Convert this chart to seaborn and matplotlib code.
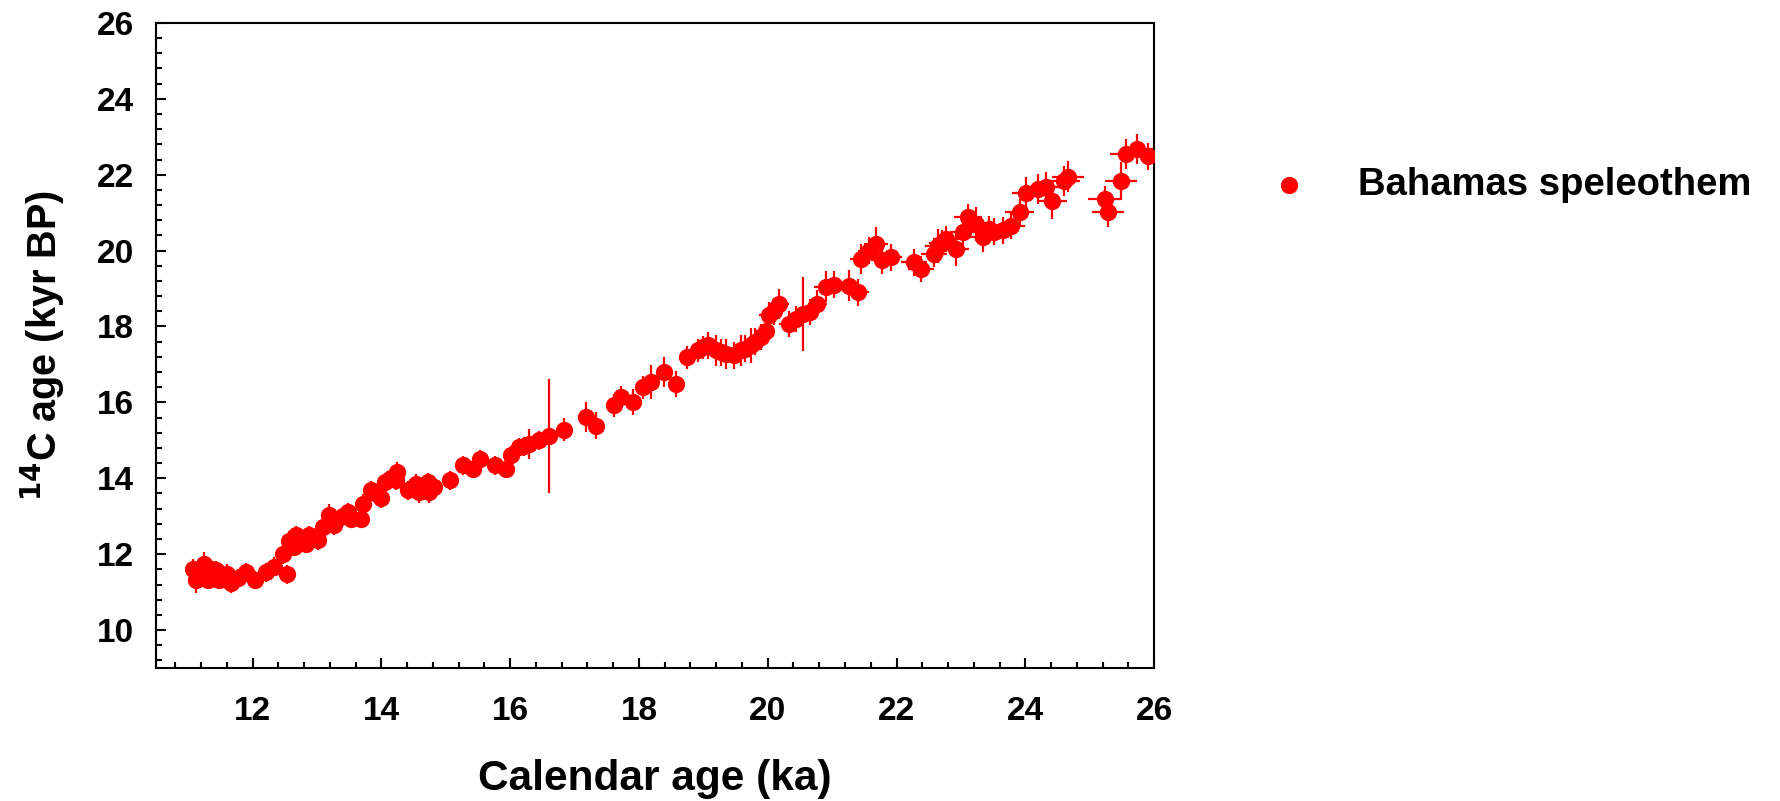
import numpy as np
import pandas as pd
import matplotlib
matplotlib.use("Agg")
import matplotlib.pyplot as plt
from matplotlib.ticker import MultipleLocator
import seaborn as sns

# Calendar age (ka) of each speleothem sample
cal_age = [
    11.07, 11.12, 11.20, 11.25, 11.30, 11.35, 11.43, 11.48, 11.61, 11.66,
    11.77, 11.90, 12.03, 12.21, 12.34, 12.47, 12.54, 12.57, 12.65, 12.67,
    12.75, 12.83, 12.88, 13.01, 13.09, 13.19, 13.27, 13.40, 13.48, 13.53,
    13.68, 13.71, 13.84, 13.90, 13.99, 14.05, 14.15, 14.23, 14.25, 14.41,
    14.54, 14.59, 14.65, 14.72, 14.74, 14.82, 15.06, 15.27, 15.42, 15.53,
    15.77, 15.93, 16.01, 16.14, 16.22, 16.30, 16.45, 16.60, 16.84, 17.18,
    17.33, 17.62, 17.72, 17.90, 18.06, 18.19, 18.39, 18.57, 18.75, 18.91,
    19.00, 19.07, 19.20, 19.28, 19.35, 19.48, 19.58, 19.65, 19.74, 19.80,
    19.89, 19.97, 20.02, 20.10, 20.18, 20.33, 20.44, 20.54, 20.65, 20.77,
    20.90, 21.03, 21.26, 21.40, 21.45, 21.58, 21.68, 21.78, 21.91, 22.27,
    22.38, 22.58, 22.64, 22.70, 22.77, 22.92, 23.03, 23.11, 23.24, 23.34,
    23.44, 23.52, 23.65, 23.78, 23.91, 24.01, 24.19, 24.32, 24.42, 24.60,
    24.66, 25.23, 25.28, 25.49, 25.56, 25.74, 25.91,
]

# Radiocarbon age (kyr BP) of the same samples
c14_age = [
    11.62, 11.32, 11.55, 11.75, 11.32, 11.60, 11.58, 11.32, 11.49, 11.24,
    11.36, 11.53, 11.32, 11.53, 11.67, 12.00, 11.47, 12.35, 12.19, 12.50,
    12.40, 12.28, 12.50, 12.37, 12.72, 13.03, 12.76, 13.00, 13.11, 12.94,
    12.94, 13.33, 13.68, 13.60, 13.47, 13.90, 14.00, 13.95, 14.17, 13.68,
    13.86, 13.64, 13.75, 13.90, 13.64, 13.77, 13.95, 14.34, 14.25, 14.50,
    14.34, 14.25, 14.61, 14.82, 14.85, 14.91, 15.00, 15.12, 15.28, 15.61,
    15.39, 15.92, 16.14, 16.01, 16.40, 16.53, 16.80, 16.49, 17.19, 17.37,
    17.45, 17.50, 17.37, 17.32, 17.28, 17.24, 17.37, 17.42, 17.50, 17.60,
    17.72, 17.89, 18.29, 18.40, 18.60, 18.07, 18.20, 18.33, 18.38, 18.60,
    19.05, 19.10, 19.08, 18.90, 19.78, 20.00, 20.17, 19.74, 19.82, 19.69,
    19.52, 19.91, 20.13, 20.20, 20.31, 20.04, 20.48, 20.88, 20.70, 20.35,
    20.57, 20.50, 20.53, 20.66, 21.01, 21.53, 21.62, 21.68, 21.32, 21.84,
    21.95, 21.36, 21.01, 21.84, 22.54, 22.68, 22.48,
]

# 1-sigma uncertainties (kyr)
c14_err = [
    0.25, 0.35, 0.25, 0.30, 0.25, 0.25, 0.25, 0.25, 0.25, 0.25,
    0.25, 0.25, 0.25, 0.25, 0.25, 0.25, 0.25, 0.25, 0.25, 0.25,
    0.25, 0.25, 0.25, 0.25, 0.25, 0.30, 0.25, 0.25, 0.25, 0.25,
    0.25, 0.25, 0.25, 0.25, 0.25, 0.25, 0.25, 0.25, 0.25, 0.25,
    0.25, 0.30, 0.25, 0.25, 0.30, 0.25, 0.25, 0.25, 0.25, 0.25,
    0.25, 0.25, 0.25, 0.25, 0.25, 0.40, 0.25, 1.50, 0.30, 0.40,
    0.35, 0.30, 0.30, 0.35, 0.30, 0.45, 0.40, 0.35, 0.30, 0.30,
    0.30, 0.35, 0.40, 0.35, 0.40, 0.35, 0.40, 0.35, 0.45, 0.35,
    0.35, 0.35, 0.35, 0.35, 0.40, 0.35, 0.35, 0.98, 0.35, 0.35,
    0.40, 0.35, 0.40, 0.35, 0.40, 0.35, 0.45, 0.35, 0.35, 0.35,
    0.35, 0.35, 0.45, 0.35, 0.35, 0.45, 0.35, 0.35, 0.45, 0.40,
    0.35, 0.35, 0.35, 0.35, 0.35, 0.40, 0.40, 0.40, 0.50, 0.40,
    0.40, 0.35, 0.40, 0.50, 0.40, 0.40, 0.35,
]
cal_err = [
    0.05, 0.05, 0.05, 0.05, 0.05, 0.05, 0.05, 0.05, 0.05, 0.05,
    0.05, 0.05, 0.05, 0.05, 0.05, 0.05, 0.05, 0.05, 0.05, 0.05,
    0.05, 0.05, 0.05, 0.05, 0.05, 0.05, 0.05, 0.05, 0.05, 0.05,
    0.05, 0.05, 0.05, 0.05, 0.05, 0.05, 0.05, 0.05, 0.05, 0.05,
    0.05, 0.05, 0.05, 0.05, 0.05, 0.05, 0.05, 0.05, 0.05, 0.05,
    0.08, 0.08, 0.08, 0.08, 0.08, 0.08, 0.08, 0.08, 0.08, 0.10,
    0.10, 0.10, 0.10, 0.10, 0.10, 0.10, 0.10, 0.10, 0.12, 0.12,
    0.12, 0.12, 0.12, 0.12, 0.12, 0.12, 0.12, 0.12, 0.15, 0.15,
    0.15, 0.15, 0.15, 0.15, 0.15, 0.15, 0.15, 0.15, 0.15, 0.15,
    0.18, 0.18, 0.18, 0.18, 0.18, 0.18, 0.18, 0.18, 0.18, 0.20,
    0.20, 0.20, 0.20, 0.20, 0.20, 0.20, 0.20, 0.22, 0.22, 0.22,
    0.22, 0.22, 0.22, 0.22, 0.22, 0.22, 0.22, 0.22, 0.22, 0.25,
    0.25, 0.25, 0.25, 0.25, 0.25, 0.25, 0.25,
]

x_ticks = [12, 14, 16, 18, 20, 22, 24, 26]
y_ticks = [10, 12, 14, 16, 18, 20, 22, 24, 26]
series_name = "Bahamas speleothem"

df = pd.DataFrame({"cal": cal_age, "c14": c14_age,
                   "cal_err": cal_err, "c14_err": c14_err})

sns.set_theme(style="white")
plt.rcParams["font.family"] = ["Liberation Sans", "DejaVu Sans"]
plt.rcParams["font.weight"] = "bold"
plt.rcParams["mathtext.default"] = "bf"
for key in ("text.color", "axes.labelcolor", "xtick.color", "ytick.color",
            "axes.edgecolor"):
    plt.rcParams[key] = "black"

fig = plt.figure(figsize=(17.81, 8.01), dpi=100)
ax = fig.add_axes([0.0876, 0.166, 0.5604, 0.8054])

red = "#ff0000"
ax.errorbar(df["cal"], df["c14"], xerr=df["cal_err"], yerr=df["c14_err"],
            fmt="none", ecolor=red, elinewidth=1.6, capsize=0, zorder=2)
sns.scatterplot(data=df, x="cal", y="c14", ax=ax, color=red, s=155,
                linewidth=0, marker="o", label=series_name, zorder=3)

ax.set_xlim(10.5, 26)
ax.set_ylim(9, 26)
ax.set_xticks(x_ticks)
ax.set_yticks(y_ticks)
ax.xaxis.set_minor_locator(MultipleLocator(0.4))
ax.yaxis.set_minor_locator(MultipleLocator(0.4))
ax.tick_params(axis="both", which="both", direction="in", colors="black",
               top=False, right=False, bottom=True, left=True, width=1.5)
ax.tick_params(axis="both", which="major", length=7, labelsize=24)
ax.tick_params(axis="both", which="minor", length=4)
ax.tick_params(axis="x", which="major", pad=20)
ax.tick_params(axis="y", which="major", pad=16)
for lab in ax.get_xticklabels() + ax.get_yticklabels():
    lab.set_fontweight("bold")

for sp in ax.spines.values():
    sp.set_visible(True)
    sp.set_color("black")
    sp.set_linewidth(1.5)

ax.set_xlabel("Calendar age (ka)", fontsize=30.5, fontweight="bold")
ax.set_ylabel(r"$^{\mathbf{14}}$C age (kyr BP)", fontsize=28.5, fontweight="bold")
ax.xaxis.set_label_coords(0.5, -0.141)
ax.yaxis.set_label_coords(-0.089, 0.5)

leg = ax.legend(loc="center left", bbox_to_anchor=(0.713, 0.769),
                bbox_transform=fig.transFigure, frameon=False,
                borderpad=0, borderaxespad=0, handlelength=1.0,
                handletextpad=1.3, prop={"weight": "bold", "size": 27.5})
for t in leg.get_texts():
    t.set_color("black")

fig.savefig("out.png", dpi=100, facecolor="white")
